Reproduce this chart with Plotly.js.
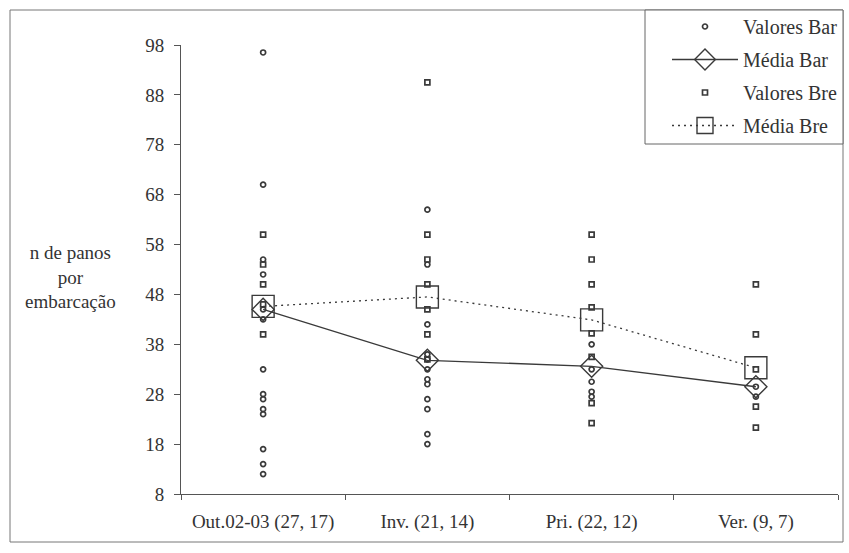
<!DOCTYPE html>
<html>
<head>
<meta charset="utf-8">
<script src="https://cdn.plot.ly/plotly-3.0.1.min.js"></script>
<style>
  html, body { margin: 0; padding: 0; background: #fff; }
  #chart { width: 849px; height: 553px; }
</style>
</head>
<body>
<div id="chart"></div>
<script>
// Seasons (n Bar, n Bre)
const categories = ["Out.02-03 (27, 17)", "Inv. (21, 14)", "Pri. (22, 12)", "Ver. (9, 7)"];

// Individual values, Bar
const barOut = [96.5, 70, 55, 52, 45, 43, 33, 28, 27, 25, 24, 17, 14, 12];
const barInv = [65, 54, 42, 36, 35, 33, 31, 30, 27, 25, 20, 18];
const barPri = [38, 33, 30.5, 28.5, 27.5];
const barVer = [29.5, 27.5];

// Individual values, Bre
const breOut = [60, 54, 50, 46, 40];
const breInv = [90.5, 60, 55, 50, 45, 40, 35];
const brePri = [60, 55, 50, 45.4, 40.2, 35.5, 26.2, 22.2];
const breVer = [50, 40, 33, 25.5, 21.3];

// Means per season
const mediaBar = [45.0, 34.8, 33.6, 29.5];
const mediaBre = [45.6, 47.5, 42.9, 33.3];

const yTicks = [8, 18, 28, 38, 48, 58, 68, 78, 88, 98];

function flatten(groups) {
  const x = [], y = [];
  groups.forEach((vals, i) => vals.forEach(v => { x.push(categories[i]); y.push(v); }));
  return { x, y };
}

const bar = flatten([barOut, barInv, barPri, barVer]);
const bre = flatten([breOut, breInv, brePri, breVer]);

const ink = '#3a3a3a';
const serif = '"Liberation Serif", "Times New Roman", serif';

const traces = [
  {
    name: 'Valores Bar', type: 'scatter', mode: 'markers',
    x: bar.x, y: bar.y, legendgroup: 'a',
    marker: { symbol: 'circle-open', size: 5, color: ink, line: { width: 1.7, color: ink } }
  },
  {
    name: 'Média Bar', type: 'scatter', mode: 'lines+markers',
    x: categories, y: mediaBar, legendgroup: 'b',
    line: { color: ink, width: 1.3 },
    marker: { symbol: 'diamond-open', size: 17, color: ink, line: { width: 1.4, color: ink } }
  },
  {
    name: 'Valores Bre', type: 'scatter', mode: 'markers',
    x: bre.x, y: bre.y, legendgroup: 'c',
    marker: { symbol: 'square-open', size: 5, color: ink, line: { width: 1.7, color: ink } }
  },
  {
    name: 'Média Bre', type: 'scatter', mode: 'lines+markers',
    x: categories, y: mediaBre, legendgroup: 'd',
    line: { color: ink, width: 1.3, dash: '2px,4px' },
    marker: { symbol: 'square-open', size: 22, color: ink, line: { width: 1.4, color: ink } }
  }
];

// Plot area: x 181..838, y 45..494 in page pixels
const L = 181, R = 838, T = 45, B = 494;
const px = v => (v - L) / (R - L);
const py = v => (B - v) / (B - T);

const layout = {
  width: 849, height: 553,
  margin: { l: L, r: 849 - R, t: T, b: 553 - B, pad: 0, autoexpand: false },
  paper_bgcolor: '#fff', plot_bgcolor: '#fff',
  font: { family: serif, size: 19, color: '#333' },
  showlegend: true,
  legend: {
    x: px(667), xanchor: 'left', y: py(7), yanchor: 'top',
    bgcolor: 'rgba(255,255,255,0)', borderwidth: 0,
    font: { family: serif, size: 20, color: '#333' },
    traceorder: 'grouped', tracegroupgap: 4, itemwidth: 66
  },
  xaxis: {
    type: 'category', categoryorder: 'array', categoryarray: categories,
    range: [-0.5, 3.5], showgrid: false, zeroline: false,
    showline: true, linecolor: '#555', linewidth: 1,
    ticks: 'outside', tickson: 'boundaries', ticklen: 5, tickcolor: '#555',
    ticklabelstandoff: 10,
    tickfont: { family: serif, size: 19, color: '#333' }
  },
  yaxis: {
    range: [8, 98], tickvals: yTicks, ticktext: yTicks.map(String),
    showgrid: false, zeroline: false,
    showline: true, linecolor: '#555', linewidth: 1,
    ticks: 'outside', ticklen: 6, tickcolor: '#555',
    ticklabelstandoff: 6,
    tickfont: { family: serif, size: 19, color: '#333' }
  },
  annotations: [{
    xref: 'paper', yref: 'paper', x: px(70), y: py(277),
    xanchor: 'center', yanchor: 'middle', showarrow: false,
    text: 'n de panos<br>por<br>embarcação', align: 'center',
    font: { family: serif, size: 19, color: '#333' }
  }],
  shapes: [
    {
      // outer frame
      type: 'rect', xref: 'paper', yref: 'paper', layer: 'below',
      x0: px(10), x1: px(843), y0: py(542), y1: py(10),
      line: { color: '#777', width: 1 }, fillcolor: 'rgba(0,0,0,0)'
    },
    {
      // legend box
      type: 'rect', xref: 'paper', yref: 'paper', layer: 'below',
      x0: px(645), x1: px(843), y0: py(144), y1: py(10),
      line: { color: '#666', width: 1 }, fillcolor: '#fff'
    }
  ]
};

Plotly.newPlot('chart', traces, layout, { displayModeBar: false, staticPlot: true });
</script>
</body>
</html>
